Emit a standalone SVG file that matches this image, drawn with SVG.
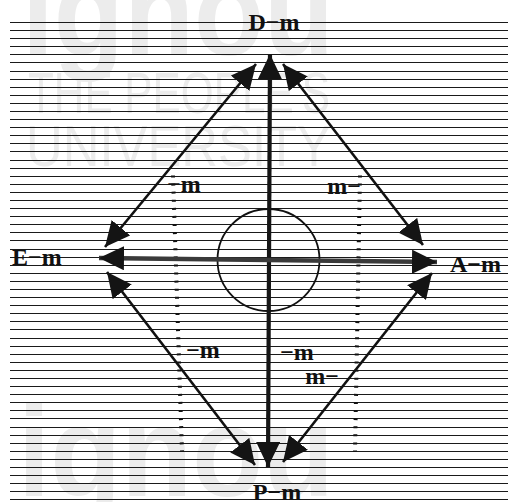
<svg xmlns="http://www.w3.org/2000/svg" width="508" height="502" viewBox="0 0 508 502">
<style>
.wm{font-family:"Liberation Sans",Arial,sans-serif;fill:#ececec}
.rule{stroke:#1a1a1a;stroke-width:1;fill:none}
.dots{stroke:#111;stroke-width:4;stroke-dasharray:2 6.09;fill:none}
.lbl{font-family:"Liberation Serif","Times New Roman",serif;font-weight:bold;font-size:24px;fill:#111}
.diag{stroke:#111;stroke-width:2.6;fill:none;marker-start:url(#ah);marker-end:url(#ah)}
</style>
<defs>
<marker id="ah" markerUnits="userSpaceOnUse" markerWidth="26" markerHeight="24" refX="25" refY="12" orient="auto-start-reverse" viewBox="0 0 26 24">
<path d="M0,0 L25,12 L0,24 Z" fill="#141414"/>
</marker>
</defs>
<rect width="508" height="502" fill="#fff"/>
<g id="watermark">
<text class="wm" x="22" y="55" font-size="128" font-weight="bold" textLength="312" lengthAdjust="spacingAndGlyphs">ignou</text>
<text class="wm" x="28" y="113" font-size="57" textLength="302" lengthAdjust="spacingAndGlyphs">THE PEOPLE'S</text>
<text class="wm" x="26" y="166" font-size="57" textLength="305" lengthAdjust="spacingAndGlyphs">UNIVERSITY</text>
<text class="wm" x="18" y="496" font-size="128" font-weight="bold" textLength="316" lengthAdjust="spacingAndGlyphs">ignou</text>
</g>
<g id="ruling">
<path class="rule" d="M10 22.5H508M10 30.5H508M10 38.5H508M10 46.5H508M10 54.5H508M10 62.5H508M10 71.5H508M10 79.5H508M10 87.5H508M10 95.5H508M10 103.5H508M10 111.5H508M10 119.5H508M10 127.5H508M10 135.5H508M10 143.5H508M10 151.5H508M10 160.5H508M10 168.5H508M10 176.5H508M10 184.5H508M10 192.5H508M10 200.5H508M10 208.5H508M10 216.5H508M10 224.5H508M10 232.5H508M10 240.5H508M10 249.5H508M10 257.5H508M10 265.5H508M10 273.5H508M10 281.5H508M10 289.5H508M10 297.5H508M10 305.5H508M10 313.5H508M10 321.5H508M10 329.5H508M10 338.5H508M10 346.5H508M10 354.5H508M10 362.5H508M10 370.5H508M10 378.5H508M10 386.5H508M10 394.5H508M10 402.5H508M10 410.5H508M10 418.5H508M10 427.5H508M10 435.5H508M10 443.5H508M10 451.5H508M10 459.5H508M10 467.5H508M10 475.5H508M10 483.5H508M10 491.5H508M10 499.5H508"/>
<path class="rule" stroke-width="2" d="M233 79.5H303M233 87.5H303M233 95.5H303M233 103.5H303M233 111.5H303M233 119.5H303M233 127.5H303M233 135.5H303M233 143.5H303M233 151.5H303M233 160.5H303M237 451.5H293M237 459.5H293M237 467.5H293M237 475.5H293M237 483.5H293M237 491.5H293"/>
<line class="dots" x1="173" y1="175.5" x2="182" y2="452"/>
<line class="dots" x1="360" y1="175.5" x2="355" y2="452"/>
</g>
<g id="center-circle">
<circle cx="268.5" cy="260" r="51" fill="none" stroke="#111" stroke-width="1.8"/>
</g>
<g id="connectors">
<line x1="268" y1="467" x2="270" y2="54" stroke="#161616" stroke-width="4.2" marker-start="url(#ah)" marker-end="url(#ah)"/>
<line x1="99" y1="258" x2="437" y2="262" stroke="#3a3a3a" stroke-width="4.6" marker-start="url(#ah)" marker-end="url(#ah)"/>
<line class="diag" x1="105" y1="247" x2="256" y2="64"/>
<line class="diag" x1="283" y1="64" x2="423" y2="245"/>
<line class="diag" x1="107" y1="272" x2="255" y2="465"/>
<line class="diag" x1="432" y1="273" x2="283" y2="462"/>
</g>
<g id="node-D"><text class="lbl" x="274" y="30" text-anchor="middle">D−m</text></g>
<g id="node-E"><text class="lbl" x="12" y="265">E−m</text></g>
<g id="node-A"><text class="lbl" x="450" y="272">A−m</text></g>
<g id="node-P"><text class="lbl" x="277" y="500" text-anchor="middle">P−m</text></g>
<g id="edge-labels">
<text class="lbl" x="184" y="192" text-anchor="middle">−m</text>
<text class="lbl" x="344" y="194" text-anchor="middle">m−</text>
<text class="lbl" x="203" y="358" text-anchor="middle">−m</text>
<text class="lbl" x="297" y="360" text-anchor="middle">−m</text>
<text class="lbl" x="322" y="384" text-anchor="middle">m−</text>
</g>
</svg>
